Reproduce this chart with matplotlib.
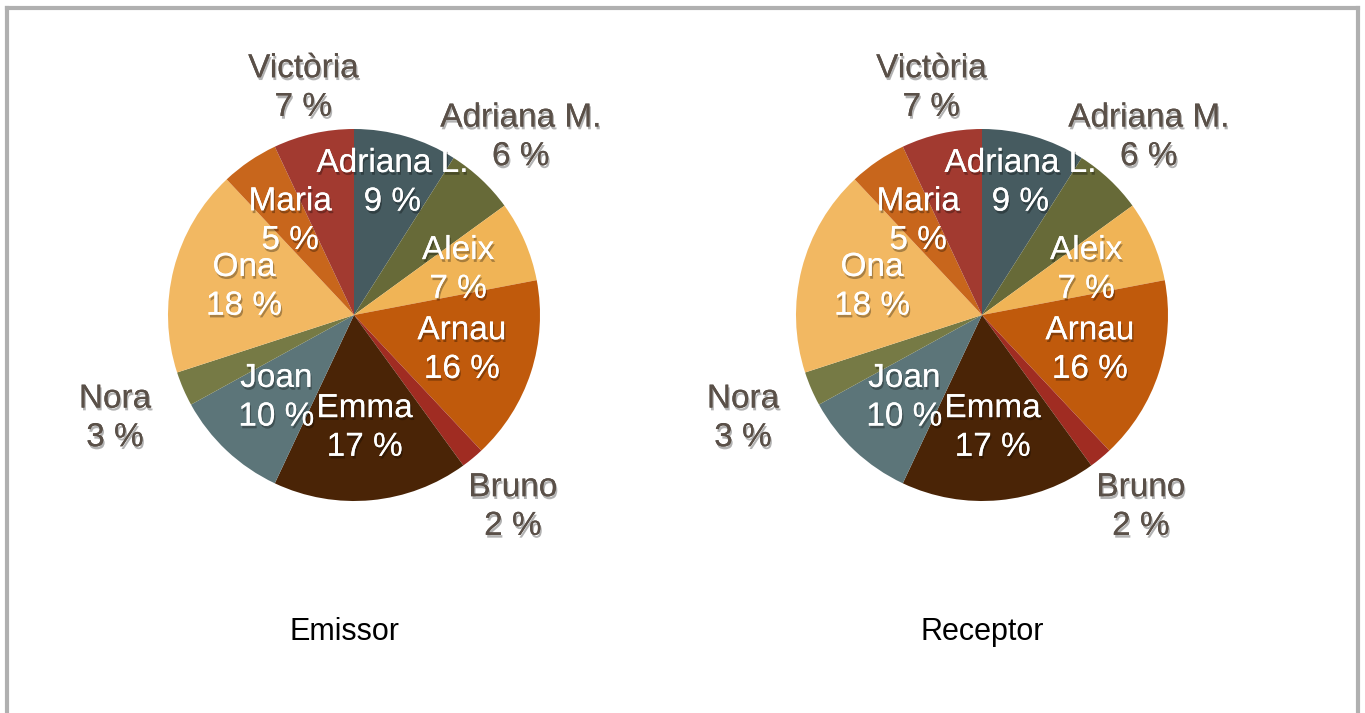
import matplotlib.pyplot as plt
import matplotlib.patheffects as pe
import numpy as np

# slices in clockwise order starting at 12 o'clock
names = ['Adriana L.', 'Adriana M.', 'Aleix', 'Arnau', 'Bruno', 'Emma',
         'Joan', 'Nora', 'Ona', 'Maria', 'Victòria']
emissor = [9, 6, 7, 16, 2, 17, 10, 3, 18, 5, 7]
receptor = [9, 6, 7, 16, 2, 17, 10, 3, 18, 5, 7]
titles = ['Emissor', 'Receptor']

colors = ['#465b60', '#676a38', '#f0b456', '#c05a0c', '#a02c22', '#4a2406',
          '#5c7579', '#767a45', '#f2b862', '#c8661c', '#a23a30']
# small slices get their label outside the pie
outside = {'Adriana M.': 1.31, 'Bruno': 1.34, 'Nora': 1.4, 'Victòria': 1.25}
inside_r = {'Adriana L.': 0.74}

W, H = 1365, 713
fig = plt.figure(figsize=(W / 100, H / 100), dpi=100)

# frame around the figure
for xs, ys in [([7, 7], [0, H - 8]), ([7, 1358], [H - 8, H - 8]), ([1358, 1358], [H - 8, 0])]:
    fig.add_artist(plt.Line2D(np.array(xs) / W, np.array(ys) / H, color='#b0b0b0', lw=3))

shadow = [pe.withSimplePatchShadow(offset=(1, -2), shadow_rgbFace='black', alpha=0.3), pe.Normal()]

cx_list = [354, 982]
cy = 315
r = 186
for cx, values, title in zip(cx_list, [emissor, receptor], titles):
    ax = fig.add_axes([(cx - r) / W, (H - cy - r) / H, 2 * r / W, 2 * r / H])
    ax.pie(values, colors=colors, startangle=90, counterclock=False,
           wedgeprops=dict(linewidth=0))
    ax.set_xlim(-1, 1)
    ax.set_ylim(-1, 1)
    ax.set_aspect('equal')
    ax.axis('off')

    total = sum(values)
    start = 0
    for name, v in zip(names, values):
        mid = 90 - 360 * (start + v / 2) / total
        start += v
        rad = np.deg2rad(mid)
        if name in outside:
            d = outside[name]
            col = '#5a5048'
        else:
            d = inside_r.get(name, 0.61)
            col = 'white'
        ax.text(d * np.cos(rad), d * np.sin(rad), f'{name}\n{v} %',
                ha='center', va='center', fontsize=24, color=col,
                linespacing=1.32, path_effects=shadow, clip_on=False,
                family='Liberation Sans')

    fig.text(cx / W - 0.007 * (title == 'Emissor'), 1 - 632 / H, title,
             ha='center', va='center', fontsize=22, color='black',
             family='Liberation Sans')

fig.savefig('out.png', dpi=100)
